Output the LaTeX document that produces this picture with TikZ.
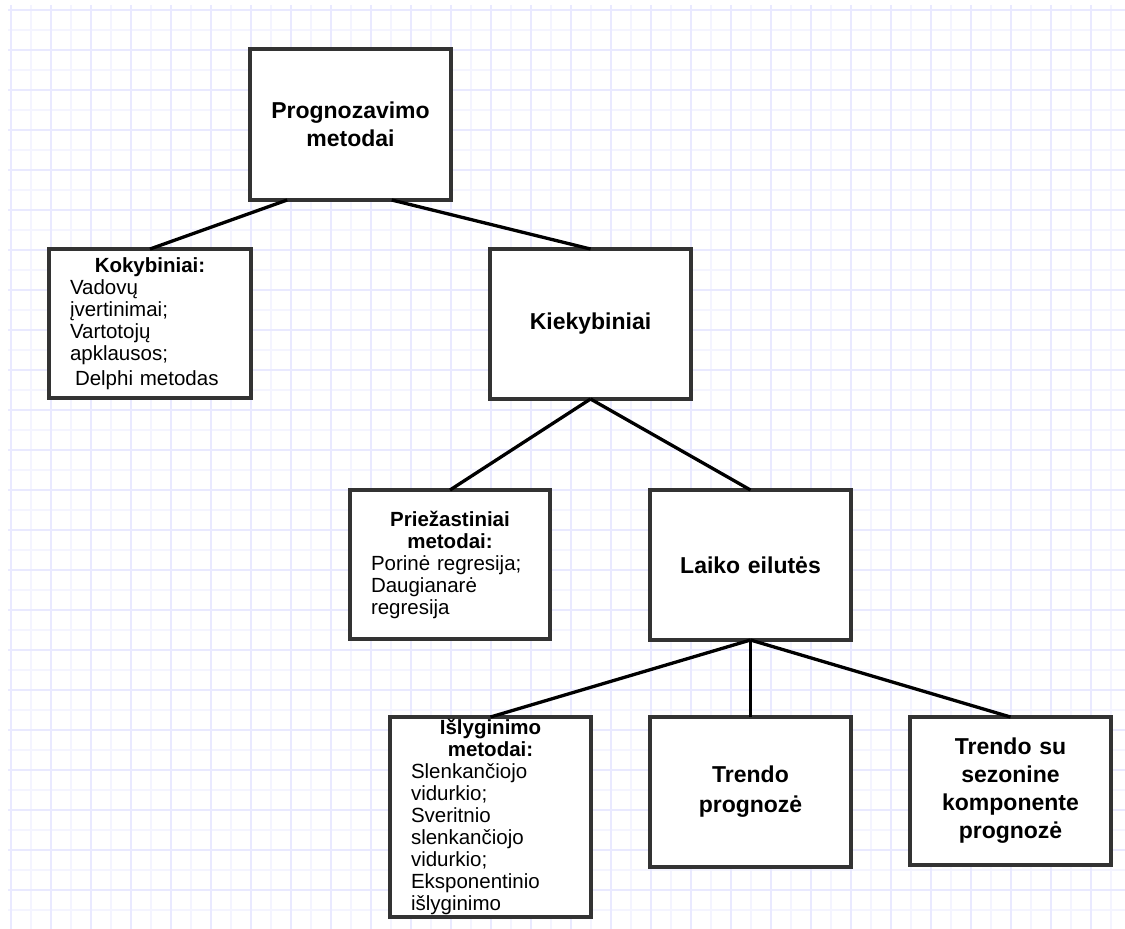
\documentclass[tikz,border=0pt]{standalone}
\usepackage{fontspec}
\setmainfont{Liberation Sans}
\usetikzlibrary{calc}
\definecolor{gridA}{RGB}{233,233,255}
\definecolor{gridB}{RGB}{244,244,255}
\definecolor{boxline}{RGB}{51,51,51}
\tikzset{
  box/.style={draw=boxline, line width=3.3pt, fill=white, minimum width=201pt,
    minimum height=150pt, inner xsep=21pt, inner ysep=0pt, text width=159pt, outer sep=0pt},
  bigbox/.style={box, align=center, font=\fontsize{23}{28}\selectfont\bfseries},
  smallbox/.style={box, align=left, font=\fontsize{20.5}{22}\selectfont},
  link/.style={line width=3.3pt, draw=black},
  gridmajor/.style={draw=gridA, line width=1.6pt},
  gridminor/.style={draw=gridB, line width=1.6pt},
}
\newcommand{\hdr}[1]{\makebox[\hsize]{\bfseries #1}}
\begin{document}
\begin{tikzpicture}[x=1pt, y=-1pt]
\useasboundingbox[fill=white] (0,0) rectangle (1125,929);
% grid
\foreach \k in {0,...,27} {
  \draw[gridminor] ({31+40*\k},5) -- ({31+40*\k},929);
}
\foreach \k in {0,...,22} {
  \draw[gridminor] (8,{30+40*\k}) -- (1125,{30+40*\k});
}
\foreach \k in {0,...,27} {
  \draw[gridmajor] ({11+40*\k},5) -- ({11+40*\k},929);
}
\foreach \k in {0,...,23} {
  \draw[gridmajor] (8,{10+40*\k}) -- (1125,{10+40*\k});
}
% boxes
\node[bigbox, minimum height=151pt] (prog) at (350.5,124.5) {Prognozavimo\\metodai};
\node[smallbox, minimum width=202pt, text width=160pt, minimum height=149pt] (kokyb) at (150,323.5) {\hdr{Kokybiniai:}\\Vadovų\\įvertinimai;\\Vartotojų\\apklausos;\\[3pt]\hspace*{5pt}Delphi metodas};
\node[bigbox] (kiek) at (590.5,324) {Kiekybiniai};
\node[smallbox, minimum width=200pt, text width=158pt, minimum height=149pt] (priez) at (450,564.5) {\hdr{Priežastiniai}\\\hdr{metodai:}\\Porinė regresija;\\Daugianarė\\regresija};
\node[bigbox] (laiko) at (750.5,565) {Laiko eilutės};
\node[smallbox, minimum height=200pt] (islyg) at (490.5,817) {\hdr{Išlyginimo}\\\hdr{metodai:}\\Slenkančiojo\\vidurkio;\\Sveritnio\\slenkančiojo\\vidurkio;\\Eksponentinio\\išlyginimo};
\node[bigbox, font=\fontsize{23}{30}\selectfont\bfseries] (trendo) at (750.5,792) {Trendo\\prognozė};
\node[bigbox, minimum height=148pt] (trendosu) at (1010.5,791) {Trendo su\\sezonine\\komponente\\prognozė};
% connectors
\coordinate (progL) at ($(prog.south west)!0.185!(prog.south east)$);
\coordinate (progR) at ($(prog.south west)!0.705!(prog.south east)$);
\draw[link] (progL) -- (kokyb.north);
\draw[link] (progR) -- (kiek.north);
\draw[link] (kiek.south) -- (priez.north);
\draw[link] (kiek.south) -- (laiko.north);
\draw[link] (laiko.south) -- (islyg.north);
\draw[link] (laiko.south) -- (trendo.north);
\draw[link] (laiko.south) -- (trendosu.north);
\end{tikzpicture}
\end{document}
